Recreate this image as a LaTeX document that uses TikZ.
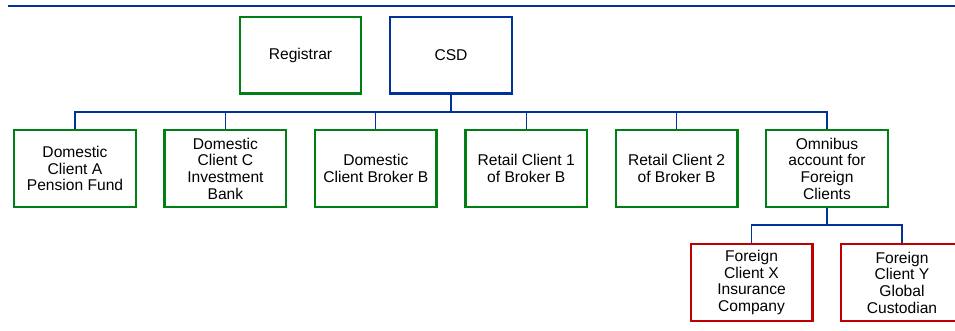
\documentclass[tikz,border=0pt]{standalone}
\usepackage{fontspec}
\setmainfont{Liberation Sans}
\definecolor{bgreen}{RGB}{0,128,20}
\definecolor{bblue}{RGB}{0,51,153}
\definecolor{bred}{RGB}{192,0,0}
\tikzset{
  box/.style={draw, rectangle, line width=2.4pt, minimum width=121.6pt, minimum height=76.6pt,
    inner sep=0pt, align=center, font=\fontsize{15.6}{16.7}\selectfont, text=black, fill=white},
  gbox/.style={box, draw=bgreen},
  bbox/.style={box, draw=bblue},
  rbox/.style={box, draw=bred},
  conn/.style={draw=bblue, line width=1.1pt}
}
\begin{document}
\begin{tikzpicture}[x=1pt,y=-1pt]
\useasboundingbox (0,0) rectangle (955,330);
\clip (0,0) rectangle (955,330);
\coordinate (tl) at (8,5.5);
\coordinate (tr) at (956,5.5);
\draw[draw=bblue, line width=2pt] (tl) -- (tr);

\node[gbox, minimum width=120.6pt] (reg) at (300.5,55) {Registrar};
\node[bbox] (csd) at (451,55) {CSD};

\node[gbox] (c1) at (75,168.5) {Domestic\\Client A\\Pension Fund};
\node[gbox] (c2) at (225.4,168.5) {Domestic\\Client C\\Investment\\Bank};
\node[gbox] (c3) at (375.8,168.5) {Domestic\\Client Broker B};
\node[gbox] (c4) at (526.2,168.5) {Retail Client 1\\of Broker B};
\node[gbox] (c5) at (676.6,168.5) {Retail Client 2\\of Broker B};
\node[gbox] (c6) at (827,168.5) {Omnibus\\account for\\Foreign\\Clients};

\node[rbox] (fx) at (751.5,282.5) {Foreign\\Client X\\Insurance\\Company};
\node[rbox] (fy) at (902,282.5) {Foreign\\Client Y\\Global\\Custodian};

\coordinate (bus) at (0,112);
\coordinate (bus2) at (0,225);
\foreach \c in {c1,c2,c3,c4,c5,c6}{
  \draw[conn] (csd.south) |- (bus -| \c.north) -- (\c.north);
}
\foreach \c in {fx,fy}{
  \draw[conn] (c6.south) |- (bus2 -| \c.north) -- (\c.north);
}
\end{tikzpicture}
\end{document}
